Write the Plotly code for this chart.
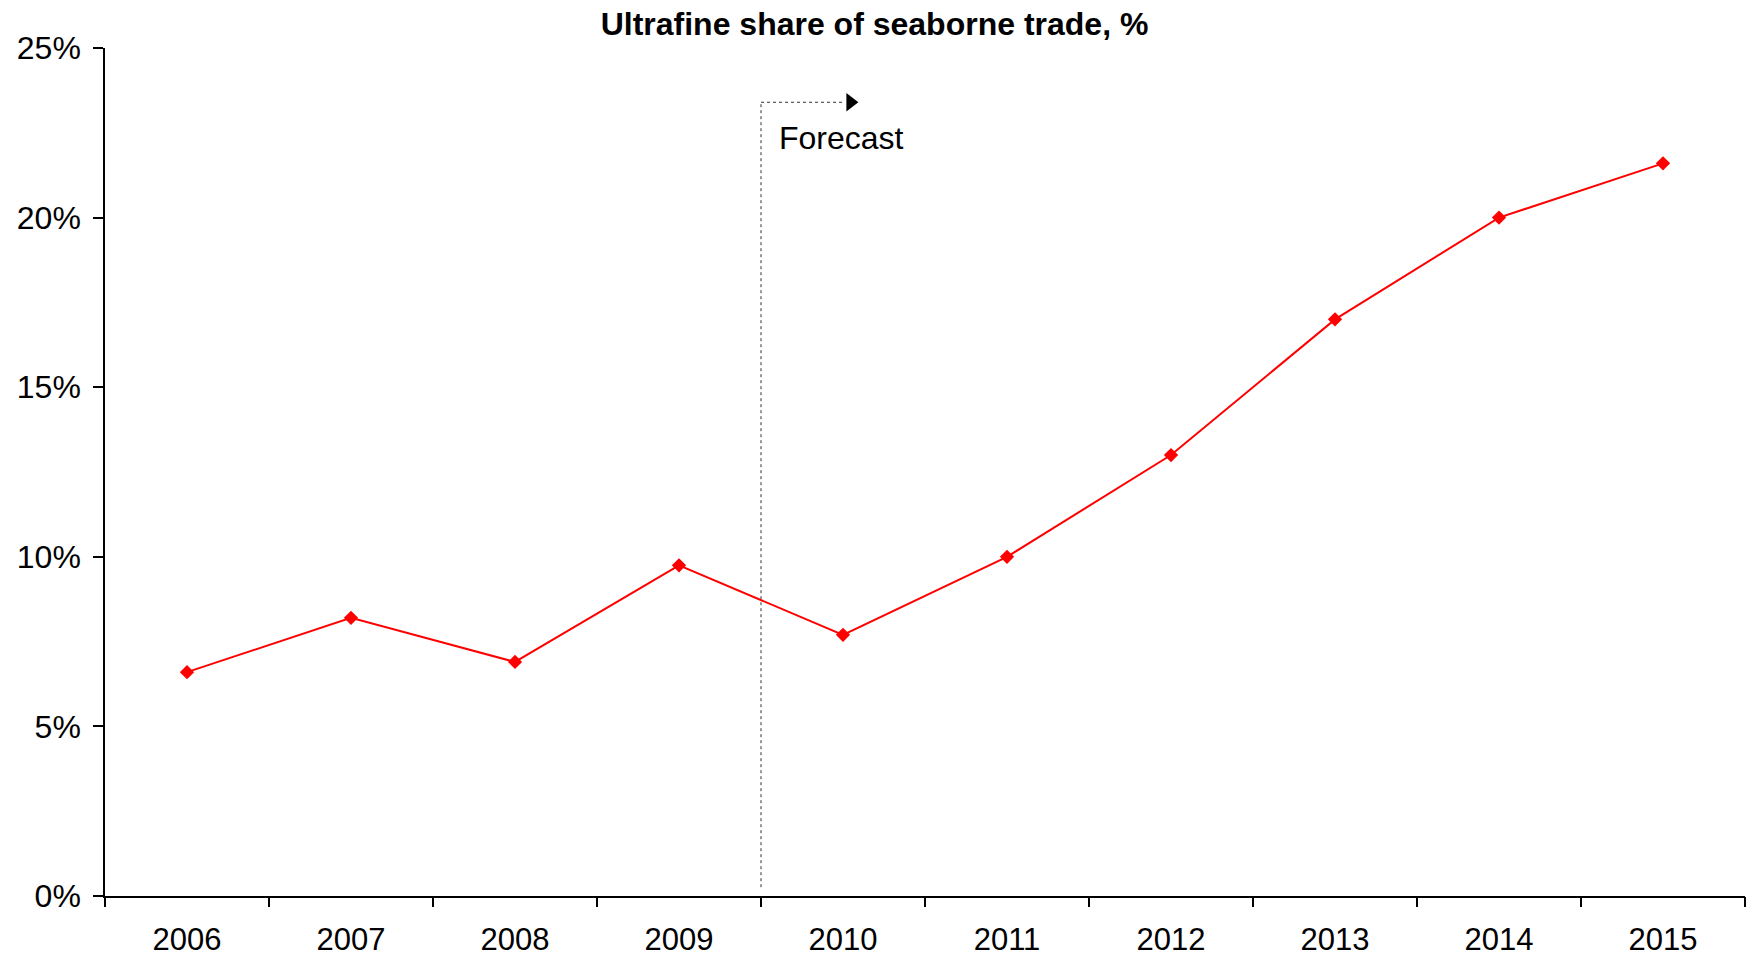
import plotly.graph_objects as go

# Ultrafine share of seaborne trade, actuals to 2009 then forecast
years = ["2006", "2007", "2008", "2009", "2010", "2011", "2012", "2013", "2014", "2015"]
share_pct = [6.6, 8.2, 6.9, 9.75, 7.7, 10.0, 13.0, 17.0, 20.0, 21.6]
y_ticks = [0, 5, 10, 15, 20, 25]
y_tick_labels = [f"{v}%" for v in y_ticks]

FONT = "Liberation Sans, Arial, Helvetica, sans-serif"

# forecast marker sits on the boundary between 2009 and 2010
forecast_x = years.index("2010") - 0.5
forecast_top = 23.4
forecast_bottom = 0.26
arrow_x = forecast_x + 0.545

fig = go.Figure()

fig.add_trace(go.Scatter(
    x=list(range(len(years))),
    y=share_pct,
    mode="lines+markers",
    line=dict(color="#ff0000", width=2),
    marker=dict(symbol="diamond", size=11, color="#ff0000"),
    showlegend=False,
    hoverinfo="skip",
))

# arrow head at the end of the forecast bracket
fig.add_trace(go.Scatter(
    x=[arrow_x],
    y=[forecast_top],
    mode="markers",
    marker=dict(symbol="triangle-right", size=16, color="#000000"),
    showlegend=False,
    hoverinfo="skip",
))

fig.add_shape(type="line", x0=forecast_x, x1=forecast_x,
              y0=forecast_bottom, y1=forecast_top,
              line=dict(color="#333333", width=1, dash="dot"))
fig.add_shape(type="line", x0=forecast_x, x1=arrow_x - 0.04,
              y0=forecast_top, y1=forecast_top,
              line=dict(color="#333333", width=1, dash="dot"))

fig.add_annotation(
    x=forecast_x + 0.1, y=22.35, xref="x", yref="y",
    text="Forecast", showarrow=False, xanchor="left", yanchor="middle",
    font=dict(family=FONT, size=32, color="#000000"),
)

fig.update_layout(
    width=1749, height=960,
    margin=dict(l=105, r=4, t=48, b=64, autoexpand=False),
    paper_bgcolor="#ffffff",
    plot_bgcolor="#ffffff",
    font=dict(family=FONT, size=32, color="#000000"),
    title=dict(
        text="Ultrafine share of seaborne trade, %",
        x=0.5, xref="container", xanchor="center",
        y=1 - 24 / 960, yref="container", yanchor="middle",
        font=dict(family=FONT, size=32, color="#000000", weight="bold"),
    ),
)

fig.update_xaxes(
    range=[-0.5, len(years) - 0.5],
    tickmode="array",
    tickvals=list(range(len(years))),
    ticktext=years,
    showgrid=False, zeroline=False,
    showline=True, linecolor="#000000", linewidth=1.5,
    ticks="",
    ticklabelstandoff=15,
    tickfont=dict(size=31),
    automargin=False,
)
# boundary ticks between the year categories
fig.update_layout(xaxis2=dict(
    overlaying="x", matches="x", range=[-0.5, len(years) - 0.5],
    tickmode="array",
    tickvals=[i - 0.5 for i in range(len(years) + 1)],
    showticklabels=False, showgrid=False, zeroline=False,
    ticks="outside", ticklen=10, tickwidth=1.5, tickcolor="#000000",
    side="bottom", anchor="y", automargin=False,
))
fig.add_trace(go.Scatter(x=[], y=[], xaxis="x2", showlegend=False))

fig.update_yaxes(
    range=[0, 25],
    tickmode="array",
    tickvals=y_ticks,
    ticktext=y_tick_labels,
    showgrid=False, zeroline=False,
    showline=True, linecolor="#000000", linewidth=1.5,
    ticks="outside", ticklen=10, tickwidth=1.5, tickcolor="#000000",
    ticklabelstandoff=6,
    automargin=False,
)

fig.write_html("out.html")
